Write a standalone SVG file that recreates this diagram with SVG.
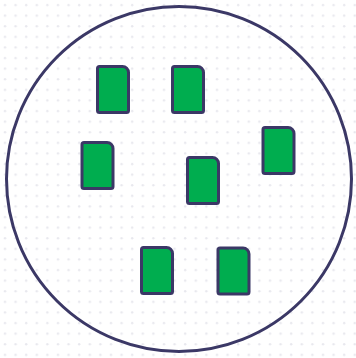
<svg xmlns="http://www.w3.org/2000/svg" xmlns:xlink="http://www.w3.org/1999/xlink" width="356" height="358" viewBox="0 0 356 358">
  <style>
    .card { fill: #00ad4f; stroke: #3b3866; stroke-width: 3; stroke-linejoin: round; }
    .ring { fill: none; stroke: #3b3866; stroke-width: 3; }
  </style>
  <defs>
    <pattern id="dots" x="0" y="0" width="10.6" height="10.6" patternUnits="userSpaceOnUse">
      <circle cx="5" cy="5" r="1.2" fill="#e8e8ee"/>
    </pattern>
    <path id="card" d="M2,0 H25 A6,6 0 0 1 31,6 V44 A2,2 0 0 1 29,46 H2 A2,2 0 0 1 0,44 V2 A2,2 0 0 1 2,0 Z"/>
  </defs>
  <rect width="356" height="358" fill="#ffffff"/>
  <rect width="356" height="358" fill="url(#dots)"/>
  <g id="boundary">
    <circle class="ring" cx="179" cy="179" r="172.5"/>
  </g>
  <g id="connectors"></g>
  <g id="n1" transform="translate(97.5,66.5)"><use xlink:href="#card" class="card"/></g>
  <g id="n2" transform="translate(172.5,66.5)"><use xlink:href="#card" class="card"/></g>
  <g id="n3" transform="translate(82,142.5)"><use xlink:href="#card" class="card"/></g>
  <g id="n4" transform="translate(187.5,157.5)"><use xlink:href="#card" class="card"/></g>
  <g id="n5" transform="translate(263,127.5)"><use xlink:href="#card" class="card"/></g>
  <g id="n6" transform="translate(141.5,247.5)"><use xlink:href="#card" class="card"/></g>
  <g id="n7" transform="translate(218,248)"><use xlink:href="#card" class="card"/></g>
</svg>
